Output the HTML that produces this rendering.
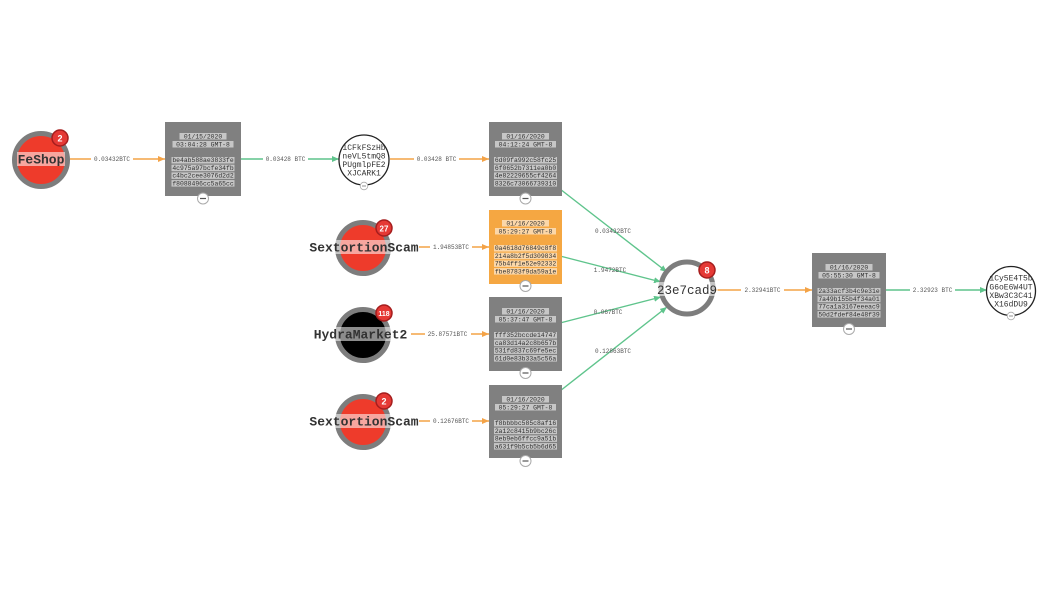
<!DOCTYPE html>
<html><head><meta charset="utf-8"><style>
html,body{margin:0;padding:0;background:#fff;}
svg{display:block;}
.bt{font-family:"Liberation Mono",monospace;font-size:6.4px;fill:#333;text-anchor:middle;}
.el{font-family:"Liberation Mono",monospace;font-size:6px;fill:#555;text-anchor:middle;}
.nl{font-family:"Liberation Mono",monospace;font-size:13px;font-weight:bold;fill:#333;text-anchor:middle;}
.ct{font-family:"Liberation Mono",monospace;font-size:8px;fill:#333;text-anchor:middle;}
.bd{font-family:"Liberation Sans",sans-serif;font-size:9px;font-weight:bold;fill:#fff;text-anchor:middle;}
.lb{fill:#fff;fill-opacity:.55;}
</style></head><body>
<svg width="1050" height="598" viewBox="0 0 1050 598" xmlns="http://www.w3.org/2000/svg">
<defs>
<marker id="ao" markerWidth="7" markerHeight="6" refX="7" refY="3" orient="auto" markerUnits="userSpaceOnUse"><path d="M0,0 L7,3 L0,6 z" fill="#f4a347"/></marker>
<marker id="ag" markerWidth="7" markerHeight="6" refX="7" refY="3" orient="auto" markerUnits="userSpaceOnUse"><path d="M0,0 L7,3 L0,6 z" fill="#5fc48c"/></marker>
</defs>

<!-- edges -->
<g stroke-width="1.4" fill="none">
<line x1="70" y1="159" x2="165" y2="159" stroke="#f4a347" marker-end="url(#ao)"/>
<line x1="241" y1="159" x2="339" y2="159" stroke="#5fc48c" marker-end="url(#ag)"/>
<line x1="390" y1="159" x2="489" y2="159" stroke="#f4a347" marker-end="url(#ao)"/>
<line x1="419" y1="247" x2="489" y2="247" stroke="#f4a347" marker-end="url(#ao)"/>
<line x1="411" y1="334" x2="489" y2="334" stroke="#f4a347" marker-end="url(#ao)"/>
<line x1="419" y1="421" x2="489" y2="421" stroke="#f4a347" marker-end="url(#ao)"/>
<line x1="560" y1="189" x2="667" y2="272" stroke="#5fc48c" marker-end="url(#ag)"/>
<line x1="560" y1="256" x2="661" y2="282" stroke="#5fc48c" marker-end="url(#ag)"/>
<line x1="560" y1="323" x2="661" y2="297" stroke="#5fc48c" marker-end="url(#ag)"/>
<line x1="560" y1="391" x2="667" y2="307" stroke="#5fc48c" marker-end="url(#ag)"/>
<line x1="716" y1="290" x2="812" y2="290" stroke="#f4a347" marker-end="url(#ao)"/>
<line x1="886" y1="290" x2="987" y2="290" stroke="#5fc48c" marker-end="url(#ag)"/>
</g>

<!-- edge labels -->
<g>
<rect x="91" y="156" width="42" height="6" fill="#fff"/><text class="el" x="112" y="161">0.03432BTC</text>
<rect x="263" y="156" width="45" height="6" fill="#fff"/><text class="el" x="285.5" y="161">0.03428 BTC</text>
<rect x="414" y="156" width="45" height="6" fill="#fff"/><text class="el" x="436.5" y="161">0.03428 BTC</text>
<rect x="430" y="244" width="42" height="6" fill="#fff"/><text class="el" x="451" y="249">1.94853BTC</text>
<rect x="425" y="331" width="46" height="6" fill="#fff"/><text class="el" x="447.5" y="336">25.87571BTC</text>
<rect x="430" y="418" width="42" height="6" fill="#fff"/><text class="el" x="451" y="423">0.12676BTC</text>
<text class="el" x="613" y="233">0.03432BTC</text>
<text class="el" x="610" y="272">1.9472BTC</text>
<text class="el" x="608" y="314">0.067BTC</text>
<text class="el" x="613" y="353">0.12863BTC</text>
<rect x="741" y="287" width="43" height="6" fill="#fff"/><text class="el" x="762.5" y="292">2.32941BTC</text>
<rect x="910" y="287" width="45" height="6" fill="#fff"/><text class="el" x="932.5" y="292">2.32923 BTC</text>
</g>

<!-- boxes -->
<g transform="translate(165,122)">
<rect width="76" height="74" fill="#808080"/>
<rect class="lb" x="14.5" y="11" width="47" height="6.5"/><text class="bt" x="38" y="16.3">01/15/2020</text>
<rect class="lb" x="7.5" y="19" width="61" height="6.5"/><text class="bt" x="38" y="24.3">03:04:28 GMT-8</text>
<rect class="lb" x="6.5" y="35" width="63" height="6.5"/><text class="bt" x="38" y="40.2">be4ab588ae3833fe</text>
<rect class="lb" x="6.5" y="42.7" width="63" height="6.5"/><text class="bt" x="38" y="47.9">4c975a97bcfe34fb</text>
<rect class="lb" x="6.5" y="50.4" width="63" height="6.5"/><text class="bt" x="38" y="55.6">c4bc2cee3076d2d2</text>
<rect class="lb" x="6.5" y="58.1" width="63" height="6.5"/><text class="bt" x="38" y="63.3">f8088496cc5a65cc</text>
<circle cx="38" cy="76.5" r="5.5" fill="#fff" stroke="#aaa"/><line x1="35" y1="76.5" x2="41" y2="76.5" stroke="#555" stroke-width="1.2"/>
</g>

<g transform="translate(489,122)">
<rect width="73" height="74" fill="#808080"/>
<rect class="lb" x="13" y="11" width="47" height="6.5"/><text class="bt" x="36.5" y="16.3">01/16/2020</text>
<rect class="lb" x="6" y="19" width="61" height="6.5"/><text class="bt" x="36.5" y="24.3">04:12:24 GMT-8</text>
<rect class="lb" x="5" y="35" width="63" height="6.5"/><text class="bt" x="36.5" y="40.2">6d09fa992c58fc25</text>
<rect class="lb" x="5" y="42.7" width="63" height="6.5"/><text class="bt" x="36.5" y="47.9">6f0652b7311ea0b0</text>
<rect class="lb" x="5" y="50.4" width="63" height="6.5"/><text class="bt" x="36.5" y="55.6">4e82229655cf4264</text>
<rect class="lb" x="5" y="58.1" width="63" height="6.5"/><text class="bt" x="36.5" y="63.3">8326c73066739310</text>
<circle cx="36.5" cy="76.5" r="5.5" fill="#fff" stroke="#aaa"/><line x1="33.5" y1="76.5" x2="39.5" y2="76.5" stroke="#555" stroke-width="1.2"/>
</g>

<g transform="translate(489,210)">
<rect width="73" height="74" fill="#f5a742"/>
<rect class="lb" x="13" y="10" width="47" height="6.5"/><text class="bt" x="36.5" y="15.3">01/16/2020</text>
<rect class="lb" x="6" y="18" width="61" height="6.5"/><text class="bt" x="36.5" y="23.3">05:29:27 GMT-8</text>
<rect class="lb" x="5" y="35" width="63" height="6.5"/><text class="bt" x="36.5" y="40.2">0a4618d76849c8f8</text>
<rect class="lb" x="5" y="42.7" width="63" height="6.5"/><text class="bt" x="36.5" y="47.9">214a8b2f5d309834</text>
<rect class="lb" x="5" y="50.4" width="63" height="6.5"/><text class="bt" x="36.5" y="55.6">75b4ff1e52e92332</text>
<rect class="lb" x="5" y="58.1" width="63" height="6.5"/><text class="bt" x="36.5" y="63.3">fbe8783f9da59a1e</text>
<circle cx="36.5" cy="76" r="5.5" fill="#fff" stroke="#aaa"/><line x1="33.5" y1="76" x2="39.5" y2="76" stroke="#555" stroke-width="1.2"/>
</g>

<g transform="translate(489,297)">
<rect width="73" height="74" fill="#808080"/>
<rect class="lb" x="13" y="11" width="47" height="6.5"/><text class="bt" x="36.5" y="16.3">01/16/2020</text>
<rect class="lb" x="6" y="19" width="61" height="6.5"/><text class="bt" x="36.5" y="24.3">05:37:47 GMT-8</text>
<rect class="lb" x="5" y="35" width="63" height="6.5"/><text class="bt" x="36.5" y="40.2">fff352bccde14747</text>
<rect class="lb" x="5" y="42.7" width="63" height="6.5"/><text class="bt" x="36.5" y="47.9">ca83d14a2c8b657b</text>
<rect class="lb" x="5" y="50.4" width="63" height="6.5"/><text class="bt" x="36.5" y="55.6">531fd837c69fe5ec</text>
<rect class="lb" x="5" y="58.1" width="63" height="6.5"/><text class="bt" x="36.5" y="63.3">61d0e83b33a5c56a</text>
<circle cx="36.5" cy="76" r="5.5" fill="#fff" stroke="#aaa"/><line x1="33.5" y1="76" x2="39.5" y2="76" stroke="#555" stroke-width="1.2"/>
</g>

<g transform="translate(489,385)">
<rect width="73" height="73" fill="#808080"/>
<rect class="lb" x="13" y="11" width="47" height="6.5"/><text class="bt" x="36.5" y="16.3">01/16/2020</text>
<rect class="lb" x="6" y="19" width="61" height="6.5"/><text class="bt" x="36.5" y="24.3">05:29:27 GMT-8</text>
<rect class="lb" x="5" y="35" width="63" height="6.5"/><text class="bt" x="36.5" y="40.2">f8bbbbc585c8af16</text>
<rect class="lb" x="5" y="42.7" width="63" height="6.5"/><text class="bt" x="36.5" y="47.9">2a12c8415b9bc26c</text>
<rect class="lb" x="5" y="50.4" width="63" height="6.5"/><text class="bt" x="36.5" y="55.6">8eb9eb6ffcc9a51b</text>
<rect class="lb" x="5" y="58.1" width="63" height="6.5"/><text class="bt" x="36.5" y="63.3">a631f9b5cb5b6d65</text>
<circle cx="36.5" cy="76" r="5.5" fill="#fff" stroke="#aaa"/><line x1="33.5" y1="76" x2="39.5" y2="76" stroke="#555" stroke-width="1.2"/>
</g>

<g transform="translate(812,253)">
<rect width="74" height="74" fill="#808080"/>
<rect class="lb" x="13.5" y="11" width="47" height="6.5"/><text class="bt" x="37" y="16.3">01/16/2020</text>
<rect class="lb" x="6.5" y="19" width="61" height="6.5"/><text class="bt" x="37" y="24.3">05:55:30 GMT-8</text>
<rect class="lb" x="5.5" y="35" width="63" height="6.5"/><text class="bt" x="37" y="40.2">2a33acf3b4c9e31e</text>
<rect class="lb" x="5.5" y="42.7" width="63" height="6.5"/><text class="bt" x="37" y="47.9">7a49b155b4f34a01</text>
<rect class="lb" x="5.5" y="50.4" width="63" height="6.5"/><text class="bt" x="37" y="55.6">77ca1a3167eeeac9</text>
<rect class="lb" x="5.5" y="58.1" width="63" height="6.5"/><text class="bt" x="37" y="63.3">50d2fdef84e48f39</text>
<circle cx="37" cy="76" r="5.5" fill="#fff" stroke="#aaa"/><line x1="34" y1="76" x2="40" y2="76" stroke="#555" stroke-width="1.2"/>
</g>

<!-- FeShop -->
<circle cx="41" cy="160" r="26.5" fill="#ee3b2b" stroke="#7d7d7d" stroke-width="5"/>
<rect class="lb" x="17" y="152" width="48" height="14"/>
<text class="nl" x="41" y="163.5">FeShop</text>
<circle cx="60" cy="138" r="8" fill="#e53935" stroke="#a51d1d" stroke-width="1.5"/>
<text class="bd" x="60" y="141.3">2</text>

<!-- address circle 1 -->
<circle cx="364" cy="160" r="25" fill="#fff" stroke="#222" stroke-width="1.3"/>
<text class="ct" x="364" y="149.8">1CFkFSzHb</text>
<text class="ct" x="364" y="158.4">neVL5tmQ8</text>
<text class="ct" x="364" y="167">PUgmlpFE2</text>
<text class="ct" x="364" y="175.4">XJCARK1</text>
<circle cx="364" cy="186" r="3.8" fill="#fff" stroke="#aaa" stroke-width=".8"/><line x1="362" y1="186" x2="366" y2="186" stroke="#777" stroke-width=".8"/>

<!-- SextortionScam 1 -->
<circle cx="363" cy="248" r="25.5" fill="#ee3b2b" stroke="#7d7d7d" stroke-width="5"/>
<rect class="lb" x="309" y="240" width="110" height="14"/>
<text class="nl" x="364" y="251.5">SextortionScam</text>
<circle cx="384" cy="228" r="8" fill="#e53935" stroke="#a51d1d" stroke-width="1.5"/>
<text class="bd" x="384" y="231.3" style="font-size:8px">27</text>

<!-- HydraMarket2 -->
<circle cx="363" cy="335" r="25.5" fill="#000" stroke="#7d7d7d" stroke-width="5"/>
<rect class="lb" x="310" y="327" width="101" height="14"/>
<text class="nl" x="360.5" y="338.5">HydraMarket2</text>
<circle cx="384" cy="313" r="8" fill="#e53935" stroke="#a51d1d" stroke-width="1.5"/>
<text class="bd" x="384" y="316" style="font-size:7px">118</text>

<!-- SextortionScam 2 -->
<circle cx="363" cy="422" r="25.5" fill="#ee3b2b" stroke="#7d7d7d" stroke-width="5"/>
<rect class="lb" x="309" y="414" width="110" height="14"/>
<text class="nl" x="364" y="425.5">SextortionScam</text>
<circle cx="384" cy="401" r="8" fill="#e53935" stroke="#a51d1d" stroke-width="1.5"/>
<text class="bd" x="384" y="404.3">2</text>

<!-- central -->
<circle cx="687" cy="288" r="26" fill="#fff" stroke="#7d7d7d" stroke-width="5"/>
<rect class="lb" x="656" y="282" width="62" height="14"/>
<text x="687" y="294" style="font-family:'Liberation Mono',monospace;font-size:12.5px;fill:#333;text-anchor:middle;">23e7cad9</text>
<circle cx="707" cy="270" r="8" fill="#e53935" stroke="#a51d1d" stroke-width="1.5"/>
<text class="bd" x="707" y="273.3">8</text>

<!-- address circle last -->
<circle cx="1011" cy="291" r="24.5" fill="#fff" stroke="#222" stroke-width="1.3"/>
<text class="ct" x="1011" y="280.5">1Cy5E4T5b</text>
<text class="ct" x="1011" y="289.3">G6oE6W4UT</text>
<text class="ct" x="1011" y="298">XBw3C3C41</text>
<text class="ct" x="1011" y="306.5">X16dDU9</text>
<circle cx="1011" cy="316" r="3.8" fill="#fff" stroke="#aaa" stroke-width=".8"/><line x1="1009" y1="316" x2="1013" y2="316" stroke="#777" stroke-width=".8"/>
</svg>
</body></html>
